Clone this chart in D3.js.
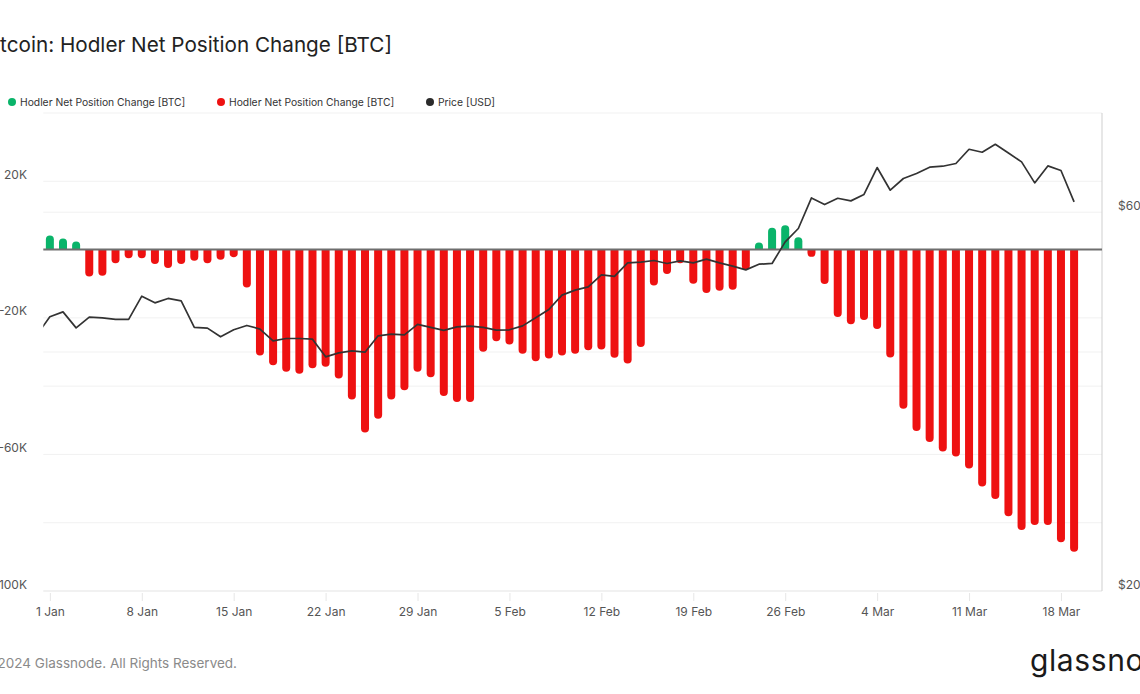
<!DOCTYPE html>
<html>
<head>
<meta charset="utf-8">
<script src="https://cdn.jsdelivr.net/npm/d3@7"></script>
<style>
  html, body { margin: 0; padding: 0; background: #fff; overflow: hidden; }
  svg { display: block; font-family: Inter, "Noto Sans", sans-serif; }
</style>
</head>
<body>
<svg id="chart" width="1140" height="694"></svg>
<script>
// ---------- DATA ----------
const firstDay = "2024-01-01";
const lastDay = "2024-03-19";

// Hodler Net Position Change [BTC], daily, 1 Jan .. 19 Mar 2024
const netChange = [
  4090, 3210, 2340, -7880, -7680, -3970, -2510, -2510, -4260, -5430,
  -4260, -3300, -3970, -3000, -2220, -11100, -31040, -33870, -35800, -36380,
  -34740, -34340, -37750, -43880, -53610, -49520, -43880, -41170, -35800, -37370,
  -42920,
  -44670, -44670, -29960, -26860, -27830, -30540, -32700, -31910, -31040, -30540,
  -29490, -29280, -31710, -33370, -28500, -10510, -7180, -3970, -10010, -12730,
  -12060, -11770, -5930, 2040, 6420, 7120, 3620, -2130, -10100,
  -19740, -21900, -20610, -23240, -31620, -46600, -53140, -56350, -59150, -60610,
  -64120, -69370, -73080, -78130, -82130, -80670, -80670, -85720, -88470
];

// Price [USD], daily, 31 Dec 2023 .. 19 Mar 2024
const priceStart = "2023-12-31";
const price = [
  42000,
  44300, 44940, 42900, 44260, 44170, 43960, 43960, 47030, 46130, 46720,
  46400, 42960, 42870, 41800, 42660, 43200, 42750, 41320, 41600, 41600,
  41520, 39440, 39900, 40140, 39980, 41920, 42130, 42040, 43330, 42960,
  42590,
  43030, 43120, 42960, 42620, 42660, 43150, 44170, 45250, 47170, 47860,
  48320, 50030, 49800, 51800, 51910, 52160, 51710, 52100, 51800, 52360,
  51800, 51310, 50760, 51600, 51710, 55050, 57230, 62540, 61350,
  62480, 62000, 63160, 68300, 63950, 66160, 67130, 68360, 68560, 69100,
  72020, 71400, 73070, 71250, 69420, 65320, 68620, 67710, 61820
];

const xTickDates = ["2024-01-01","2024-01-08","2024-01-15","2024-01-22","2024-01-29",
  "2024-02-05","2024-02-12","2024-02-19","2024-02-26","2024-03-04","2024-03-11","2024-03-18"];
const leftTicks = [-100000, -80000, -60000, -40000, -20000, 0, 20000, 40000];
const leftTickLabels = {"20000":"20K", "-20000":"-20K", "-60000":"-60K", "-100000":"-100K"};
const rightTicks = [40000, 60000];
const rightTickLabels = [[60000, "$60K"], [20000, "$20K"]];

const titleText = "Bitcoin: Hodler Net Position Change [BTC]";
const legendItems = [
  {label: "Hodler Net Position Change [BTC]", color: "#0ab46a"},
  {label: "Hodler Net Position Change [BTC]", color: "#ee1111"},
  {label: "Price [USD]", color: "#2b2b2b"}
];

// ---------- LAYOUT ----------
const plot = {left: 43.3, right: 1102, top: 113, bottom: 591};
const svg = d3.select("#chart");
const parse = d3.utcParse("%Y-%m-%d");

const days = d3.utcDay.range(parse(firstDay), d3.utcDay.offset(parse(lastDay), 1));
const priceDays = d3.utcDay.range(parse(priceStart), d3.utcDay.offset(parse(lastDay), 1));
const bars = days.map((d, i) => ({date: d, value: netChange[i]}));
const pricePts = priceDays.map((d, i) => ({date: d, value: price[i]}));

const x = d3.scaleUtc()
  .domain([d3.utcHour.offset(parse("2023-12-31"), 12), d3.utcHour.offset(parse("2024-03-21"), 3)])
  .range([plot.left, plot.right]);
const yL = d3.scaleLinear().domain([-100000, 40000]).range([plot.bottom, plot.top]);
const yR = d3.scaleLog().domain([20000, 80000]).range([plot.bottom, plot.top]);

// title
svg.append("text")
  .attr("x", 392).attr("y", 52)
  .attr("text-anchor", "end")
  .attr("font-size", 20.7).attr("fill", "#222")
  .text(titleText);

// legend
const legendX = [12, 221, 430];
legendItems.forEach((it, i) => {
  svg.append("circle").attr("cx", legendX[i]).attr("cy", 102).attr("r", 4).attr("fill", it.color);
  svg.append("text").attr("x", legendX[i] + 8).attr("y", 102)
    .attr("dominant-baseline", "central")
    .attr("font-size", 10.3).attr("fill", "#333").text(it.label);
});

// grid lines
const grid = svg.append("g");
leftTicks.forEach(v => {
  if (v === 0 || v === -100000) return;
  grid.append("line").attr("x1", plot.left).attr("x2", plot.right)
    .attr("y1", yL(v)).attr("y2", yL(v)).attr("stroke", "#f1f1f1").attr("stroke-width", 1);
});
rightTicks.forEach(v => {
  grid.append("line").attr("x1", plot.left).attr("x2", plot.right)
    .attr("y1", yR(v)).attr("y2", yR(v)).attr("stroke", "#f1f1f1").attr("stroke-width", 1);
});
// bottom axis line
grid.append("line").attr("x1", plot.left).attr("x2", plot.right)
  .attr("y1", plot.bottom).attr("y2", plot.bottom).attr("stroke", "#e3e3e3");
// right axis line
grid.append("line").attr("x1", plot.right).attr("x2", plot.right)
  .attr("y1", plot.top).attr("y2", plot.bottom).attr("stroke", "#cfcfcf");

// left labels
Object.keys(leftTickLabels).forEach(k => {
  svg.append("text").attr("x", 27).attr("y", yL(+k) - 7)
    .attr("text-anchor", "end").attr("dominant-baseline", "central")
    .attr("font-size", 12).attr("fill", "#555").text(leftTickLabels[k]);
});
// right labels
rightTickLabels.forEach(([v, t]) => {
  svg.append("text").attr("x", 1118).attr("y", yR(v) - 7)
    .attr("dominant-baseline", "central")
    .attr("font-size", 12).attr("fill", "#555").text(t);
});

// x axis
const xAxis = d3.axisBottom(x)
  .tickValues(xTickDates.map(parse))
  .tickFormat(d3.utcFormat("%-d %b"))
  .tickSize(8).tickPadding(6);
const gx = svg.append("g").attr("transform", `translate(0,${plot.bottom + 2})`).call(xAxis);
gx.select(".domain").remove();
gx.selectAll(".tick line").attr("stroke", "#e6e6e6");
gx.selectAll(".tick text").attr("font-size", 12).attr("fill", "#555")
  .attr("font-family", "Inter, 'Noto Sans', sans-serif");

// bars
const bw = 8;
function barPath(d) {
  const cx = x(d.date);
  const xl = cx - bw / 2, xr = cx + bw / 2;
  const y0 = yL(0), y1 = yL(d.value);
  const len = Math.abs(y1 - y0);
  const r = Math.min(bw / 2, len);
  if (d.value < 0) {
    return `M${xl},${y0}V${y1 - r}A${r},${r} 0 0 0 ${xr},${y1 - r}V${y0}Z`;
  }
  return `M${xl},${y0}V${y1 + r}A${r},${r} 0 0 1 ${xr},${y1 + r}V${y0}Z`;
}
svg.append("g").selectAll("path").data(bars).join("path")
  .attr("d", barPath)
  .attr("fill", d => d.value >= 0 ? legendItems[0].color : legendItems[1].color);

// zero line
svg.append("line").attr("x1", plot.left).attr("x2", plot.right)
  .attr("y1", yL(0)).attr("y2", yL(0)).attr("stroke", "#6e6e6e").attr("stroke-width", 2);

// price line (clipped to plot)
svg.append("clipPath").attr("id", "clip").append("rect")
  .attr("x", plot.left).attr("y", plot.top)
  .attr("width", plot.right - plot.left).attr("height", plot.bottom - plot.top);
const line = d3.line().x(d => x(d.date)).y(d => yR(d.value));
svg.append("path").datum(pricePts)
  .attr("clip-path", "url(#clip)")
  .attr("d", line).attr("fill", "none")
  .attr("stroke", "#333").attr("stroke-width", 1.7).attr("stroke-linejoin", "round");

// footer
svg.append("text").attr("x", 237).attr("y", 663)
  .attr("text-anchor", "end").attr("dominant-baseline", "central")
  .attr("font-size", 13.5).attr("fill", "#8a8a8a")
  .text("© 2024 Glassnode. All Rights Reserved.");
svg.append("text").attr("x", 1030).attr("y", 671)
  .attr("font-size", 30).attr("font-weight", 400).attr("fill", "#1a1a1a")
  .attr("letter-spacing", 0.6)
  .text("glassnode");
</script>
</body>
</html>
